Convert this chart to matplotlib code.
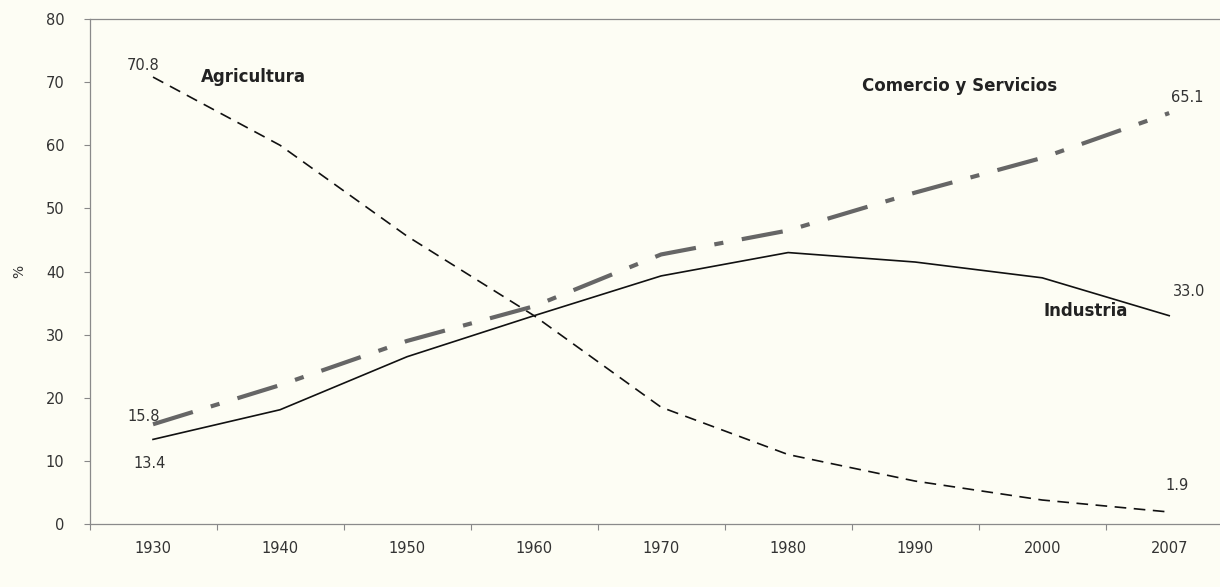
import matplotlib
matplotlib.use("Agg")
import matplotlib.pyplot as plt
from matplotlib.ticker import FixedLocator

# data (%)
years = ["1930", "1940", "1950", "1960", "1970", "1980", "1990", "2000", "2007"]
agricultura = [70.8, 60.0, 45.6, 33.0, 18.5, 11.0, 6.8, 3.8, 1.9]
industria = [13.4, 18.1, 26.5, 33.0, 39.3, 43.0, 41.5, 39.0, 33.0]
comercio = [15.8, 22.0, 29.0, 34.5, 42.7, 46.5, 52.5, 58.0, 65.1]

bg = "#fdfdf4"
plt.rcParams["font.family"] = ["DejaVu Sans"]

fig = plt.figure(figsize=(12.2, 5.87), dpi=100, facecolor=bg)
ax = fig.add_axes([89.5 / 1220, 63 / 587, 1 - 89.5 / 1220, 505 / 587])
ax.set_facecolor(bg)

x = list(range(len(years)))

# lines
ax.plot(x, agricultura, color="#111111", lw=1.2, dashes=(7, 4.5))
ax.plot(x, industria, color="#111111", lw=1.2)
ax.plot(x, comercio, color="#666666", lw=3.0, dashes=(10, 4.5, 2.2, 4.5),
        solid_capstyle="butt", dash_capstyle="butt")

# axes
ax.set_xlim(-0.5, 8.40)
ax.set_ylim(0, 80)
ax.set_yticks(range(0, 81, 10))
ax.set_xticks(x)
ax.set_xticklabels(years)
ax.xaxis.set_minor_locator(FixedLocator([i + 0.5 for i in range(-1, 8)]))
ax.tick_params(axis="x", which="major", length=0, pad=12, labelsize=10.5, labelcolor="#333333")
ax.tick_params(axis="x", which="minor", length=4, width=0.8, color="#888888", direction="out")
ax.tick_params(axis="y", length=4, width=0.8, color="#888888", pad=14, labelsize=10.5,
               labelcolor="#333333")
for side in ["left", "bottom", "top"]:
    ax.spines[side].set_color("#8a8a8a")
    ax.spines[side].set_linewidth(0.9)
ax.spines["right"].set_visible(False)
ax.set_ylabel("%", fontsize=10, color="#333333", labelpad=14)

# value labels
lbl = dict(textcoords="offset pixels", ha="center", va="center", fontsize=10.5, color="#333333")
ax.annotate("70.8", (0, agricultura[0]), xytext=(-10, 12), **lbl)
ax.annotate("15.8", (0, comercio[0]), xytext=(-9, 8), **lbl)
ax.annotate("13.4", (0, industria[0]), xytext=(-3, -24), **lbl)
ax.annotate("65.1", (8, comercio[-1]), xytext=(18, 16), **lbl)
ax.annotate("33.0", (8, industria[-1]), xytext=(20, 24), **lbl)
ax.annotate("1.9", (8, agricultura[-1]), xytext=(8, 27), **lbl)

# series names
name = dict(textcoords="offset pixels", ha="center", va="center", fontsize=12,
            fontweight="bold", color="#222222")
ax.annotate("Agricultura", (0, agricultura[0]), xytext=(100, 0), **name)
ax.annotate("Comercio y Servicios", (8, comercio[-1]), xytext=(-210, 27), **name)
ax.annotate("Industria", (8, industria[-1]), xytext=(-84, 5), **name)

fig.savefig("out.png", dpi=100, facecolor=bg)
